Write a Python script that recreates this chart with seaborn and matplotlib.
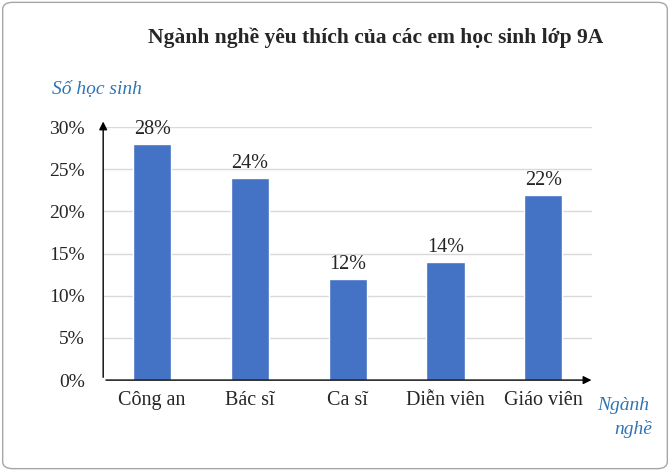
import seaborn as sns
import matplotlib.pyplot as plt
import pandas as pd
from matplotlib.patches import FancyBboxPatch

nganh = ['Công an', 'Bác sĩ', 'Ca sĩ', 'Diễn viên', 'Giáo viên']
phan_tram = [28, 24, 12, 14, 22]

df = pd.DataFrame({'Nganh': nganh, 'PhanTram': phan_tram})

sns.set_theme(style='white')
plt.rcParams['font.family'] = ['Liberation Serif', 'DejaVu Serif']

fig = plt.figure(figsize=(6.7, 4.71), dpi=100)
ax = fig.add_axes([0.154, 0.193, 0.73, 0.537])
sns.barplot(data=df, x='Nganh', y='PhanTram', color='#4472C4', saturation=1,
            width=0.39, ax=ax)
ax.set_xlim(-0.5, 4.5)
ax.set_ylim(0, 30)
ax.set_yticks(range(0, 31, 5))
ax.set_yticklabels([f'{v}%' for v in range(0, 31, 5)], fontsize=14)
ax.tick_params(axis='x', labelsize=14.5, pad=8, length=0)
ax.tick_params(axis='y', length=0, pad=13)
ax.yaxis.grid(True, color='#d9d9d9', lw=1)
ax.set_axisbelow(True)
for s in ['top', 'right', 'left', 'bottom']:
    ax.spines[s].set_visible(False)
ax.set_xlabel('')
ax.set_ylabel('')

# axis arrows
ax.annotate('', xy=(-0.5, 31), xytext=(-0.5, 0), xycoords='data',
            arrowprops=dict(arrowstyle='-|>', color='black', lw=1), annotation_clip=False)
ax.annotate('', xy=(4.52, 0), xytext=(-0.5, 0), xycoords='data',
            arrowprops=dict(arrowstyle='-|>', color='black', lw=1), annotation_clip=False)

for i, v in enumerate(phan_tram):
    ax.text(i, v + 0.6, f'{v}%', ha='center', va='bottom', fontsize=14.5)

fig.text(0.56, 0.92, 'Ngành nghề yêu thích của các em học sinh lớp 9A',
         ha='center', va='center', fontsize=15.5, fontweight='bold')
fig.text(0.078, 0.81, 'Số học sinh', color='#2E75B6', style='italic',
         fontsize=14, ha='left', va='center')
fig.text(0.93, 0.14, 'Ngành', color='#2E75B6', style='italic',
         fontsize=14, ha='center', va='center')
fig.text(0.945, 0.09, 'nghề', color='#2E75B6', style='italic',
         fontsize=14, ha='center', va='center')

fig.patches.append(FancyBboxPatch((0.004, 0.005), 0.992, 0.99,
                                  boxstyle='round,pad=0,rounding_size=0.015',
                                  transform=fig.transFigure, fill=False,
                                  edgecolor='#a6a6a6', lw=1))
fig.savefig('out.png', dpi=100)
